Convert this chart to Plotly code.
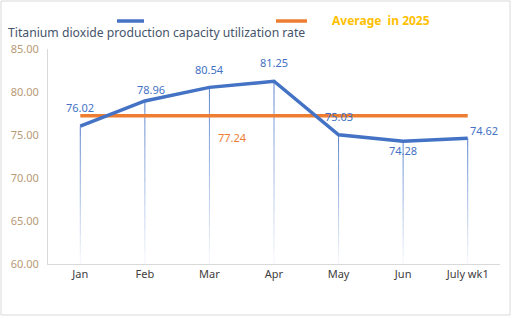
import plotly.graph_objects as go

# Monthly capacity utilization (%) and the 2025 average
months = ["Jan", "Feb", "Mar", "Apr", "May", "Jun", "July wk1"]
utilization = [76.02, 78.96, 80.54, 81.25, 75.03, 74.28, 74.62]
average_2025 = 77.24
y_ticks = [60, 65, 70, 75, 80, 85]
legend_label = "Average\u00a0\u00a0in 2025"

BLUE = "#4472C4"
ORANGE = "#ED7D31"
FONT = "Noto Sans"

# Plot-area geometry in pixels, used to place the frame and legend keys
W, H = 513, 325
L, R, T, B = 48, 13, 49, 61
PW, PH = W - L - R, H - T - B


def px(x):
    return (x - L) / PW


def py(y):
    return (H - B - y) / PH


fig = go.Figure()

# Faded drop lines from each point down to the axis (drawn as stacked segments)
n_seg = 14
for k in range(n_seg):
    xs, ys = [], []
    for m, v in zip(months, utilization):
        lo = 60 + (v - 60) * k / n_seg
        hi = 60 + (v - 60) * (k + 1) / n_seg
        xs += [m, m, None]
        ys += [lo, hi, None]
    alpha = 0.04 + 0.86 * (k + 0.5) / n_seg
    fig.add_trace(go.Scatter(
        x=xs, y=ys, mode="lines", showlegend=False, hoverinfo="skip",
        line=dict(color=f"rgba(68,114,196,{alpha:.3f})", width=1),
    ))

# Average line
fig.add_trace(go.Scatter(
    x=months, y=[average_2025] * len(months), mode="lines", showlegend=False,
    line=dict(color=ORANGE, width=3.5),
))

# Utilization line
fig.add_trace(go.Scatter(
    x=months, y=utilization, mode="lines", showlegend=False,
    line=dict(color=BLUE, width=3.5),
))

# Value labels
label_shift = [(0, 19, "center"), (6, 11, "center"), (0, 18, "center"), (0, 19, "center"),
               (0, 18, "center"), (0, -9, "center"), (0, 8, "left")]
for m, v, (dx, dy, anc) in zip(months, utilization, label_shift):
    fig.add_annotation(x=m, y=v, text=f"{v:.2f}", showarrow=False,
                       xshift=dx, yshift=dy, xanchor=anc,
                       font=dict(family=FONT, size=11, color=BLUE))
fig.add_annotation(x=2.35, y=average_2025, text=f"{average_2025:.2f}", showarrow=False,
                   yshift=-22, font=dict(family=FONT, size=11, color=ORANGE))

# Legend keys across the top
fig.add_shape(type="line", xref="paper", yref="paper",
              x0=px(117), x1=px(144), y0=py(21), y1=py(21),
              line=dict(color=BLUE, width=3.5))
fig.add_shape(type="line", xref="paper", yref="paper",
              x0=px(276), x1=px(307), y0=py(21), y1=py(21),
              line=dict(color=ORANGE, width=3.5))
fig.add_annotation(xref="paper", yref="paper", x=px(330), y=py(21),
                   xanchor="left", yanchor="middle", showarrow=False,
                   text=f"<b>{legend_label}</b>",
                   font=dict(family=FONT, size=12, color="#FFC000"))

# Outer chart frame
fig.add_shape(type="rect", xref="paper", yref="paper",
              x0=px(1), x1=px(510), y0=py(315), y1=py(1),
              line=dict(color="#D9D9D9", width=1), fillcolor="rgba(0,0,0,0)")

fig.update_layout(
    width=W, height=H,
    margin=dict(l=L, r=R, t=T, b=B),
    paper_bgcolor="white", plot_bgcolor="white",
    font=dict(family=FONT),
    showlegend=False,
    title=dict(text="Titanium dioxide production capacity utilization rate",
               x=8 / W, xref="container", xanchor="left",
               y=1 - 33 / H, yref="container", yanchor="middle",
               font=dict(family=FONT, size=12.2, color="#44546A")),
    xaxis=dict(showgrid=False, showline=True, linecolor="#D9D9D9", linewidth=1,
               ticks="", tickfont=dict(family=FONT, size=11, color="#404040"),
               range=[-0.5, len(months) - 0.5], fixedrange=True),
    yaxis=dict(range=[60, 85], tickvals=y_ticks, tickformat=".2f",
               showgrid=False, zeroline=False, showline=True, linecolor="#D9D9D9",
               linewidth=1, ticks="", ticklabelstandoff=6,
               tickfont=dict(family=FONT, size=11, color="#B89A76"), fixedrange=True),
)

fig.write_html("out.html")
